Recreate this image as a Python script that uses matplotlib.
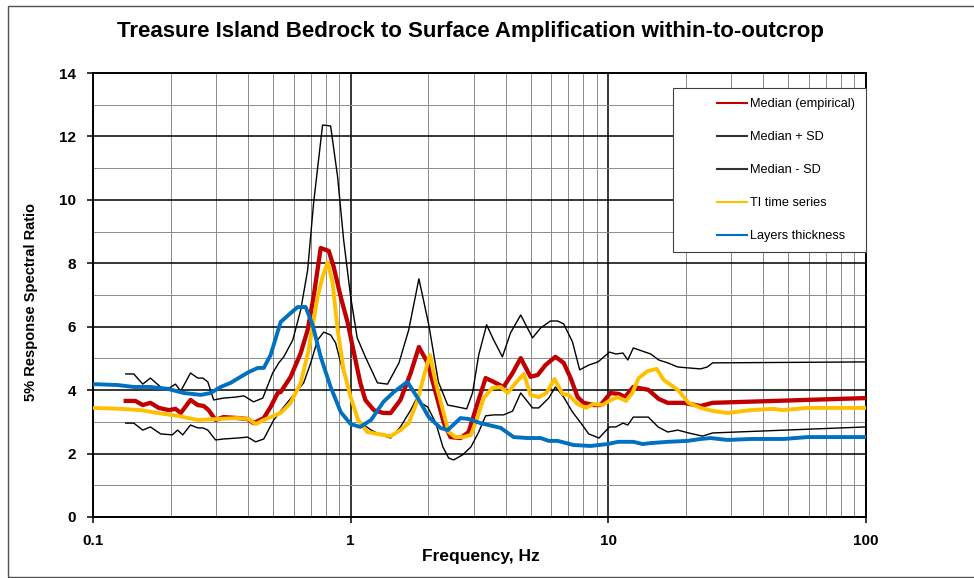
import numpy as np
import matplotlib
matplotlib.use("Agg")
import matplotlib.pyplot as plt
from matplotlib.lines import Line2D
from matplotlib.legend_handler import HandlerLine2D
from matplotlib.patches import Rectangle
from matplotlib.ticker import FixedLocator, FixedFormatter, NullFormatter

plt.rcParams['font.family'] = ['Liberation Sans', 'DejaVu Sans']

title = "Treasure Island Bedrock to Surface Amplification within-to-outcrop"
xlabel = "Frequency, Hz"
ylabel = "5% Response Spectral Ratio"
x_ticks = [0.1, 1, 10, 100]
x_ticklabels = ["0.1", "1", "10", "100"]
y_ticks = [0, 2, 4, 6, 8, 10, 12, 14]
labels = ["Median (empirical)", "Median + SD", "Median - SD", "TI time series", "Layers thickness"]

# Median (empirical)
med_f = [0.134, 0.146, 0.156, 0.167, 0.18, 0.197, 0.209, 0.219, 0.239, 0.255, 0.269, 0.281, 0.299, 0.321,
         0.364, 0.398, 0.42, 0.46, 0.489, 0.521, 0.535, 0.585, 0.64, 0.681, 0.718, 0.765, 0.822, 0.859,
         0.915, 0.974, 1.03, 1.09, 1.14, 1.23, 1.34, 1.43, 1.56, 1.71, 1.84, 1.99, 2.14, 2.3, 2.44, 2.67,
         2.87, 3.11, 3.34, 3.59, 3.92, 4.25, 4.57, 4.99, 5.32, 5.7, 6.23, 6.71, 7.14, 7.6, 8.02, 8.77,
         9.33, 10.2, 11.0, 11.6, 12.5, 14.3, 15.7, 17.0, 19.6, 22.8, 25.4, 100]
med_v = [3.66, 3.66, 3.53, 3.60, 3.44, 3.37, 3.41, 3.28, 3.69, 3.53, 3.50, 3.37, 3.06, 3.15,
         3.12, 3.09, 2.96, 3.12, 3.47, 3.91, 3.94, 4.42, 5.17, 5.90, 6.94, 8.48, 8.39, 7.89,
         6.94, 6.12, 5.17, 4.23, 3.69, 3.37, 3.28, 3.28, 3.69, 4.54, 5.36, 4.86, 3.91, 2.96, 2.52, 2.49,
         2.68, 3.60, 4.38, 4.26, 4.10, 4.54, 5.01, 4.42, 4.48, 4.79, 5.05, 4.86, 4.38, 3.78, 3.60, 3.53,
         3.53, 3.91, 3.88, 3.78, 4.10, 4.01, 3.72, 3.60, 3.60, 3.50, 3.60, 3.75]

# Median + SD
up_f = [0.134, 0.144, 0.156, 0.167, 0.183, 0.195, 0.209, 0.219, 0.239, 0.255, 0.267, 0.279, 0.294, 0.321,
        0.357, 0.385, 0.42, 0.456, 0.498, 0.526, 0.55, 0.596, 0.64, 0.681, 0.718, 0.778, 0.836, 0.89,
        0.939, 1.0, 1.06, 1.14, 1.27, 1.39, 1.54, 1.68, 1.84, 2.01, 2.19, 2.38, 2.6, 2.82, 2.97, 3.14,
        3.37, 3.59, 3.88, 4.17, 4.57, 5.08, 5.46, 5.96, 6.36, 6.71, 7.26, 7.74, 8.39, 9.12, 10.1, 10.7,
        11.4, 11.9, 12.5, 14.6, 15.7, 17.0, 18.6, 20.5, 22.8, 24.2, 25.4, 100]
up_v = [4.51, 4.51, 4.19, 4.38, 4.10, 4.04, 4.19, 3.97, 4.54, 4.38, 4.38, 4.26, 3.69, 3.75,
        3.78, 3.82, 3.63, 3.75, 4.54, 4.86, 5.05, 5.58, 6.53, 7.79, 9.90, 12.36, 12.33, 10.72,
        8.74, 6.94, 5.65, 5.05, 4.23, 4.19, 4.86, 5.90, 7.51, 6.06, 4.26, 3.53, 3.47, 3.41, 3.91, 5.11,
        6.06, 5.58, 5.05, 5.80, 6.37, 5.65, 5.96, 6.18, 6.18, 6.09, 5.52, 4.64, 4.79, 4.89, 5.20, 5.14,
        5.17, 4.95, 5.33, 5.14, 4.95, 4.86, 4.73, 4.70, 4.67, 4.73, 4.86, 4.89]

# Median - SD
lo_f = [0.134, 0.144, 0.156, 0.167, 0.183, 0.203, 0.213, 0.223, 0.239, 0.255, 0.267, 0.279, 0.299, 0.321,
        0.364, 0.398, 0.428, 0.46, 0.503, 0.55, 0.601, 0.657, 0.70, 0.744, 0.786, 0.836, 0.874, 0.915,
        1.0, 1.06, 1.2, 1.31, 1.43, 1.56, 1.71, 1.79, 1.99, 2.14, 2.28, 2.40, 2.51, 2.72, 2.93, 3.14,
        3.34, 3.59, 3.92, 4.25, 4.57, 5.08, 5.37, 5.87, 6.23, 6.71, 7.26, 7.83, 8.39, 9.2, 10.1, 10.7,
        11.4, 11.9, 12.5, 14.3, 15.6, 17.0, 18.6, 20.5, 23.2, 25.4, 100]
lo_v = [2.96, 2.96, 2.74, 2.84, 2.62, 2.59, 2.74, 2.59, 2.90, 2.81, 2.81, 2.74, 2.43, 2.46,
        2.49, 2.52, 2.37, 2.46, 3.06, 3.47, 3.85, 4.23, 4.86, 5.58, 5.83, 5.74, 5.49, 4.86,
        3.78, 3.06, 2.74, 2.59, 2.49, 2.84, 3.37, 3.69, 3.47, 2.96, 2.21, 1.86, 1.80, 1.96, 2.21, 2.68,
        3.19, 3.22, 3.22, 3.34, 3.91, 3.44, 3.44, 3.75, 4.10, 3.78, 3.31, 2.96, 2.62, 2.49, 2.84, 2.84,
        2.96, 2.90, 3.15, 3.15, 2.84, 2.68, 2.74, 2.65, 2.55, 2.65, 2.84]

# TI time series
ti_f = [0.1, 0.128, 0.153, 0.178, 0.213, 0.255, 0.304, 0.364, 0.402, 0.428, 0.46, 0.503, 0.535, 0.585,
        0.64, 0.687, 0.744, 0.778, 0.814, 0.851, 0.89, 0.939, 1.0, 1.07, 1.16, 1.27, 1.43, 1.56, 1.68,
        1.82, 1.92, 2.03, 2.14, 2.28, 2.40, 2.55, 2.74, 2.93, 3.11, 3.28, 3.55, 3.82, 4.07, 4.37, 4.70,
        4.99, 5.37, 5.75, 6.18, 6.65, 7.01, 7.6, 8.17, 8.77, 9.5, 10.2, 10.9, 11.7, 12.4, 13.1, 14.2,
        15.4, 16.4, 18.6, 20.5, 22.8, 25.6, 29.0, 35.7, 43.8, 47.5, 59.3, 100]
ti_v = [3.44, 3.41, 3.37, 3.28, 3.19, 3.06, 3.09, 3.12, 3.09, 2.93, 3.06, 3.19, 3.28, 3.60,
        4.23, 5.27, 6.94, 7.57, 8.04, 7.38, 5.90, 4.64, 3.78, 3.06, 2.68, 2.62, 2.55, 2.74, 2.96,
        3.69, 4.42, 5.11, 4.23, 3.37, 2.68, 2.52, 2.52, 2.59, 3.15, 3.75, 4.07, 4.10, 3.91, 4.23, 4.51,
        3.85, 3.78, 3.91, 4.35, 3.88, 3.85, 3.56, 3.44, 3.56, 3.53, 3.69, 3.78, 3.66, 3.91, 4.38, 4.60,
        4.67, 4.32, 4.01, 3.60, 3.44, 3.34, 3.28, 3.37, 3.41, 3.37, 3.44, 3.44]

# Layers thickness
lay_f = [0.1, 0.125, 0.144, 0.167, 0.195, 0.225, 0.262, 0.286, 0.313, 0.342, 0.374, 0.402, 0.436, 0.46,
         0.489, 0.535, 0.585, 0.623, 0.669, 0.712, 0.765, 0.836, 0.915, 1.0, 1.09, 1.2, 1.34, 1.47,
         1.66, 1.84, 2.01, 2.23, 2.38, 2.67, 2.87, 3.19, 3.82, 4.29, 4.86, 5.46, 5.87, 6.36, 7.33,
         8.54, 9.94, 10.9, 12.5, 13.6, 14.6, 17.0, 20.3, 22.8, 24.9, 29.0, 35.7, 47.9, 59.3, 100]
lay_v = [4.19, 4.16, 4.1, 4.1, 4.04, 3.91, 3.85, 3.91, 4.1, 4.23, 4.42, 4.57, 4.7, 4.7,
         5.11, 6.15, 6.43, 6.62, 6.62, 6.05, 5.05, 4.1, 3.31, 2.93, 2.84, 3.06, 3.63, 3.94,
         4.26, 3.69, 3.15, 2.81, 2.74, 3.12, 3.09, 2.96, 2.81, 2.52, 2.49, 2.49, 2.4, 2.4, 2.27,
         2.24, 2.3, 2.37, 2.37, 2.3, 2.33, 2.37, 2.4, 2.46, 2.49, 2.43, 2.46, 2.46, 2.52, 2.52]

RED = "#C00000"
YEL = "#FFC000"
BLU = "#0070C0"

fig = plt.figure(figsize=(9.74, 5.78), dpi=100)
ax = fig.add_axes([93/974, 1 - 517/578, (866-93)/974, (517-73)/578])

ax.set_xscale('log')
ax.set_xlim(0.1, 100)
ax.set_ylim(0, 14)

# grid
ax.set_axisbelow(True)
ax.xaxis.set_major_locator(FixedLocator(x_ticks))
ax.xaxis.set_major_formatter(FixedFormatter(x_ticklabels))
minor_x = [m * d for d in [0.1, 1, 10] for m in range(2, 10)]
ax.xaxis.set_minor_locator(FixedLocator(minor_x))
ax.xaxis.set_minor_formatter(NullFormatter())
ax.yaxis.set_major_locator(FixedLocator(y_ticks))
ax.yaxis.set_minor_locator(FixedLocator([1, 3, 5, 7, 9, 11, 13]))
ax.grid(which='major', axis='both', color='black', lw=1.1)
ax.grid(which='minor', axis='both', color='#8c8c8c', lw=0.7)

ax.tick_params(which='major', direction='out', length=4, width=1.1, color='black',
               labelsize=11, pad=8)
ax.tick_params(which='minor', length=0)
for lab in ax.get_xticklabels() + ax.get_yticklabels():
    lab.set_fontweight('bold')
for s in ax.spines.values():
    s.set_linewidth(1.4)
    s.set_color('black')

ax.plot(med_f, med_v, color=RED, lw=3.1, solid_joinstyle='round', zorder=3)
ax.plot(up_f, up_v, color='black', lw=1.0, zorder=3)
ax.plot(lo_f, lo_v, color='black', lw=1.0, zorder=3)
ax.plot(ti_f, ti_v, color=YEL, lw=2.8, solid_joinstyle='round', zorder=3)
ax.plot(lay_f, lay_v, color=BLU, lw=2.8, solid_joinstyle='round', zorder=3)


class RightHandler(HandlerLine2D):
    def get_xdata(self, legend, xdescent, ydescent, width, height, fontsize):
        xd, xm = super().get_xdata(legend, xdescent, ydescent, width, height, fontsize)
        return np.array([-xdescent + width * 0.53, -xdescent + width]), xm


handles = [Line2D([], [], color=RED, lw=1.5), Line2D([], [], color='#333333', lw=1.5),
           Line2D([], [], color='#333333', lw=1.5), Line2D([], [], color=YEL, lw=1.5),
           Line2D([], [], color=BLU, lw=1.5)]
leg = ax.legend(handles, labels, loc='upper left', mode='expand',
                bbox_to_anchor=((673-93)/773, 0.0, (866-673)/773, (517-88)/444),
                borderaxespad=0, fontsize=9.2, frameon=True, fancybox=False,
                edgecolor='#404040', framealpha=1, borderpad=0.8, labelspacing=1.64,
                handlelength=5.0, handletextpad=0.23,
                handler_map={h: RightHandler() for h in handles})
leg.get_frame().set_linewidth(0.8)
leg.set_zorder(5)

fig.text(470/974, 1 - 31/578, title, ha='center', va='center', fontsize=16, fontweight='bold')
fig.text(481/974, 1 - 557/578, xlabel, ha='center', va='center', fontsize=12.5, fontweight='bold')
fig.text(31/974, 1 - 302/578, ylabel, ha='center', va='center', rotation=90, fontsize=10.5, fontweight='bold')

fig.add_artist(Rectangle((8/974, 1/578), 1.2, (577-6)/578, transform=fig.transFigure,
                         fill=False, edgecolor='#505050', lw=1.0))

fig.savefig('out.png', dpi=100)
